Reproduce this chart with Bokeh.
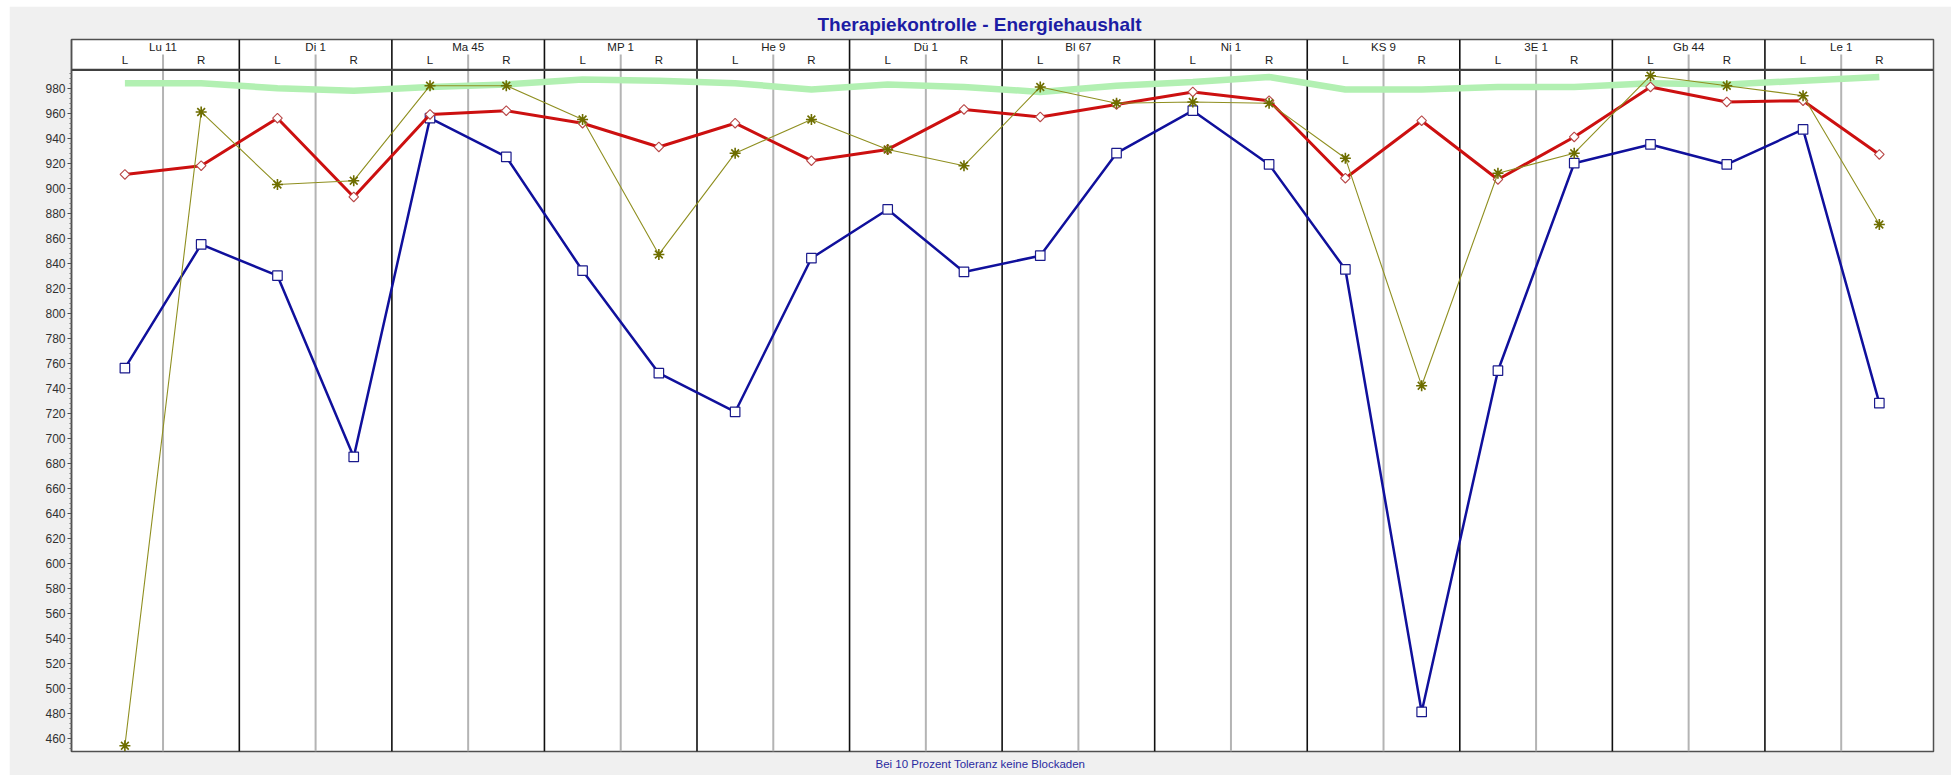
import numpy as np
from bokeh.plotting import figure
from bokeh.models import Range1d, FixedTicker, Title
from bokeh.core.properties import value
from bokeh.embed import file_html
from bokeh.resources import INLINE

# ---------------- data ----------------
groups = ["Lu 11", "Di 1", "Ma 45", "MP 1", "He 9", "Dü 1",
          "Bl 67", "Ni 1", "KS 9", "3E 1", "Gb 44", "Le 1"]
sides = ["L", "R"]

blue = [756, 855, 830, 685, 956, 925, 834, 752, 721, 844, 883, 833,
        846, 928, 962, 919, 835, 481, 754, 920, 935, 919, 947, 728]
red = [911, 918, 956, 893, 959, 962, 952, 933, 952, 922, 931, 963,
       957, 967, 977, 970, 908, 954, 907, 941, 981, 969, 970, 927]
olive = [454, 961, 903, 906, 982, 982, 955, 847, 928, 955, 931, 918,
         981, 968, 969, 968, 924, 742, 912, 928, 990, 982, 974, 871]
green = [984, 984, 980, 978, 981, 983, 987, 986, 984, 979, 983, 981,
         977, 982, 985, 989, 979, 979, 981, 981, 984, 983, 986, 989]

y_major = list(range(460, 981, 20))
y_minor = [v for v in range(452, 993, 4) if v not in y_major]

title_text = "Therapiekontrolle - Energiehaushalt"
footer_text = "Bei 10 Prozent Toleranz keine Blockaden"

# ---------------- layout constants ----------------
Y0, Y1 = 449.36, 1018.96          # bottom / top of frame (header included)
HEADER_LINE = 994.72              # separation between header and plot
THIN_TOP = 1006.96
GROUP_LABEL_Y = 1012.8
SIDE_LABEL_Y = 1002.4
X0, X1 = -0.70, 23.71
FONT = "Liberation Sans"

n = len(groups) * len(sides)
xs = np.arange(n)
side_labels = [s for g in groups for s in sides]
group_centers = [2 * i + 0.5 for i in range(len(groups))]
group_bounds = [2 * i - 0.5 for i in range(1, len(groups))]

p = figure(width=1942, height=769,
           x_range=Range1d(X0, X1), y_range=Range1d(Y0, Y1),
           output_backend="svg", toolbar_location=None,
           min_border_left=62, min_border_right=18,
           min_border_top=33, min_border_bottom=24)
p.margin = (6, 6, 0, 9)

p.background_fill_color = "white"
p.border_fill_color = "#f0f0f0"
p.outline_line_color = "#505050"
p.outline_line_width = 1.5
p.xgrid.visible = False
p.ygrid.visible = False
p.xaxis.visible = False

ax = p.yaxis[0]
ax.ticker = FixedTicker(ticks=y_major, minor_ticks=y_minor)
ax.axis_line_color = "#505050"
ax.axis_line_width = 1.5
ax.major_tick_in = 0
ax.major_tick_out = 4
ax.minor_tick_in = 0
ax.minor_tick_out = 2
ax.major_tick_line_color = "#505050"
ax.minor_tick_line_color = "#707070"
ax.major_label_text_font = FONT
ax.major_label_text_font_size = "12px"
ax.major_label_text_color = "#303030"
ax.major_label_standoff = 2

# header / separators
p.segment(x0=group_bounds, y0=[Y0] * len(group_bounds),
          x1=group_bounds, y1=[Y1] * len(group_bounds),
          line_color="#101010", line_width=1.6)
p.segment(x0=group_centers, y0=[Y0] * len(group_centers),
          x1=group_centers, y1=[THIN_TOP] * len(group_centers),
          line_color="#b4b4b4", line_width=2)
p.segment(x0=[X0], y0=[HEADER_LINE], x1=[X1], y1=[HEADER_LINE],
          line_color="#404040", line_width=2.2)

p.text(x=group_centers, y=[GROUP_LABEL_Y] * len(groups), text=groups,
       text_font=value(FONT), text_font_size=value("11.5px"),
       text_color="#202020", text_align="center", text_baseline="middle")
p.text(x=list(xs), y=[SIDE_LABEL_Y] * n, text=side_labels,
       text_font=value(FONT), text_font_size=value("11.5px"),
       text_color="#202020", text_align="center", text_baseline="middle")

# series
p.line(xs, green, line_color="#b2f0b2", line_width=6.5)

p.line(xs, blue, line_color="#10109c", line_width=2.5)
p.scatter(xs, blue, marker="square", size=9.5, fill_color="white",
          line_color="#1a1a8c", line_width=1.2)

p.line(xs, red, line_color="#cc1010", line_width=3)
p.scatter(xs, red, marker="square", angle=np.pi / 4, size=6.8,
          fill_color="white", line_color="#b84848", line_width=1.1)

p.line(xs, olive, line_color="#8f8f20", line_width=1.1)
p.scatter(xs, olive, marker="asterisk", size=11, line_color="#6e6e00",
          line_width=1.6)

# title & footer
p.add_layout(Title(text=title_text, align="left", offset=746,
                   text_font=FONT, text_font_style="bold",
                   text_font_size="19px", text_color="#1c1ca4",
                   standoff=9), "above")
p.add_layout(Title(text=footer_text, align="left", offset=804,
                   text_font=FONT, text_font_style="normal",
                   text_font_size="11.5px", text_color="#2a2aa0",
                   standoff=8), "below")

open("out.html", "w").write(file_html(p, INLINE))
